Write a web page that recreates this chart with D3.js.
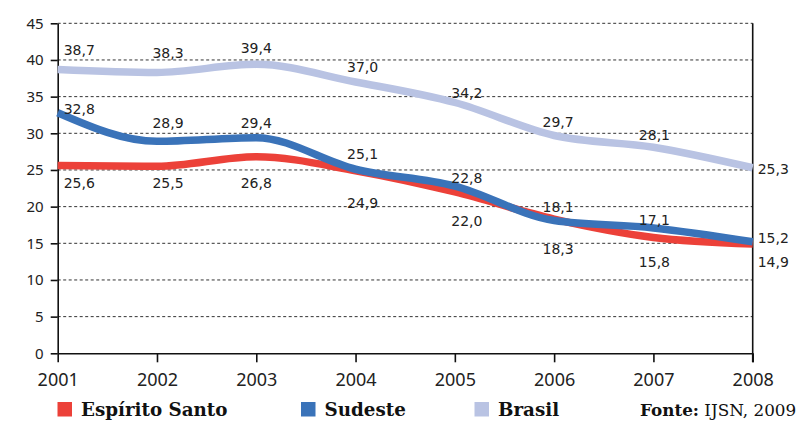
<!DOCTYPE html>
<html>
<head>
<meta charset="utf-8">
<script src="https://cdn.jsdelivr.net/npm/d3@7"></script>
<style>
  html, body { margin: 0; padding: 0; background: #fff; }
  svg { display: block; }
</style>
</head>
<body>
<svg id="chart" width="801" height="421"></svg>
<script>
// ---- data ----
const years = ["2001", "2002", "2003", "2004", "2005", "2006", "2007", "2008"];
const espiritoSanto = [25.6, 25.5, 26.8, 24.9, 22.0, 18.3, 15.8, 14.9];
const sudeste = [32.8, 28.9, 29.4, 25.1, 22.8, 18.1, 17.1, 15.2];
const brasil = [38.7, 38.3, 39.4, 37.0, 34.2, 29.7, 28.1, 25.3];
const yTicks = [0, 5, 10, 15, 20, 25, 30, 35, 40, 45];
const seriesNames = ["Espírito Santo", "Sudeste", "Brasil"];
const sourceBold = "Fonte:";
const sourceText = " IJSN, 2009";

// ---- layout / style ----
const colors = { "Espírito Santo": "#ec4139", "Sudeste": "#3a73b9", "Brasil": "#b9c3e3" };
const plotLeft = 57.7, plotRight = 752.7, plotTop = 23.3, plotBottom = 353.3;
const labelFont = "DejaVu Sans, Verdana, sans-serif";
// label nudges per year (layout only)
const labelDx = [6, 11, 0, 7, 12, 4, 1, 5];
const labelDyAbove = { "Brasil": [-15, -14, -11, -10, -5, -9, -7, 6], "Sudeste": [1, -13, -9.5, -10, -3, -9, -3, 1] };
const labelDyBelow = [22.5, 22, 31.5, 37.5, 34, 35, 30, 23];

const svg = d3.select("#chart");
const x = d3.scalePoint().domain(years).range([plotLeft, plotRight]);
const y = d3.scaleLinear().domain([0, 45]).range([plotBottom, plotTop]);

// gridlines
svg.append("g").selectAll("line")
  .data(yTicks.filter(t => t > 0))
  .join("line")
  .attr("x1", plotLeft).attr("x2", plotRight)
  .attr("y1", d => y(d)).attr("y2", d => y(d))
  .attr("stroke", "#333").attr("stroke-width", 1)
  .attr("stroke-dasharray", "3,2.5");

// right frame line
svg.append("line")
  .attr("x1", plotRight).attr("x2", plotRight)
  .attr("y1", y(45)).attr("y2", plotBottom + 9)
  .attr("stroke", "#111").attr("stroke-width", 1.6);

// y axis
const yAxis = svg.append("g")
  .attr("transform", `translate(${plotLeft},0)`)
  .call(d3.axisLeft(y).tickValues(yTicks).tickSize(7).tickPadding(7).tickSizeOuter(0));
yAxis.select(".domain").attr("stroke", "#111").attr("stroke-width", 1.6);
yAxis.selectAll(".tick line").attr("stroke", "#111").attr("stroke-width", 1.6);
yAxis.selectAll("text").attr("font-family", "Noto Sans, sans-serif").attr("font-size", 15).attr("fill", "#222");

// x axis
const xAxis = svg.append("g")
  .attr("transform", `translate(0,${plotBottom})`)
  .call(d3.axisBottom(x).tickSize(9).tickSizeOuter(0));
xAxis.select(".domain").attr("stroke", "#111").attr("stroke-width", 1.6);
xAxis.selectAll(".tick line").attr("stroke", "#111").attr("stroke-width", 1.6);
xAxis.selectAll("text")
  .attr("y", 33).attr("dy", null)
  .attr("font-family", "Noto Sans, sans-serif").attr("font-size", 18).attr("fill", "#222");

// lines
const seriesData = { "Espírito Santo": espiritoSanto, "Sudeste": sudeste, "Brasil": brasil };
const line = d3.line()
  .x((d, i) => x(years[i]))
  .y(d => y(d))
  .curve(d3.curveMonotoneX);

seriesNames.forEach(name => {
  svg.append("path")
    .datum(seriesData[name])
    .attr("d", line)
    .attr("fill", "none")
    .attr("stroke", colors[name])
    .attr("stroke-width", 7.5)
    .attr("stroke-linejoin", "round")
    .attr("stroke-linecap", "butt");
});

// labels
const fmt = v => d3.format(".1f")(v).replace(".", ",");
function anchorFor(i) { return (i === 0 || i === years.length - 1) ? "start" : "middle"; }

["Brasil", "Sudeste"].forEach(name => {
  svg.append("g").selectAll("text")
    .data(seriesData[name])
    .join("text")
    .attr("x", (d, i) => x(years[i]) + labelDx[i])
    .attr("y", (d, i) => y(d) + labelDyAbove[name][i])
    .attr("text-anchor", (d, i) => anchorFor(i))
    .attr("font-family", labelFont).attr("font-size", 14).attr("fill", "#222")
    .text(d => fmt(d));
});
svg.append("g").selectAll("text")
  .data(espiritoSanto)
  .join("text")
  .attr("x", (d, i) => x(years[i]) + labelDx[i])
  .attr("y", (d, i) => y(d) + labelDyBelow[i])
  .attr("text-anchor", (d, i) => anchorFor(i))
  .attr("font-family", labelFont).attr("font-size", 14).attr("fill", "#222")
  .text(d => fmt(d));

// legend
const legendX = [57.5, 301, 474.5];
const legend = svg.append("g");
seriesNames.forEach((name, i) => {
  legend.append("rect")
    .attr("x", legendX[i]).attr("y", 402)
    .attr("width", 14.5).attr("height", 14.5)
    .attr("fill", colors[name]);
  legend.append("text")
    .attr("x", legendX[i] + 23.5).attr("y", 416)
    .attr("font-family", "DejaVu Serif, serif").attr("font-weight", "bold")
    .attr("font-size", 18.3).attr("fill", "#111")
    .text(name);
});
const src = svg.append("text")
  .attr("x", 640).attr("y", 416)
  .attr("font-family", "DejaVu Serif, serif").attr("font-size", 16.8).attr("fill", "#111");
src.append("tspan").attr("font-weight", "bold").text(sourceBold);
src.append("tspan").text(sourceText);
</script>
</body>
</html>
